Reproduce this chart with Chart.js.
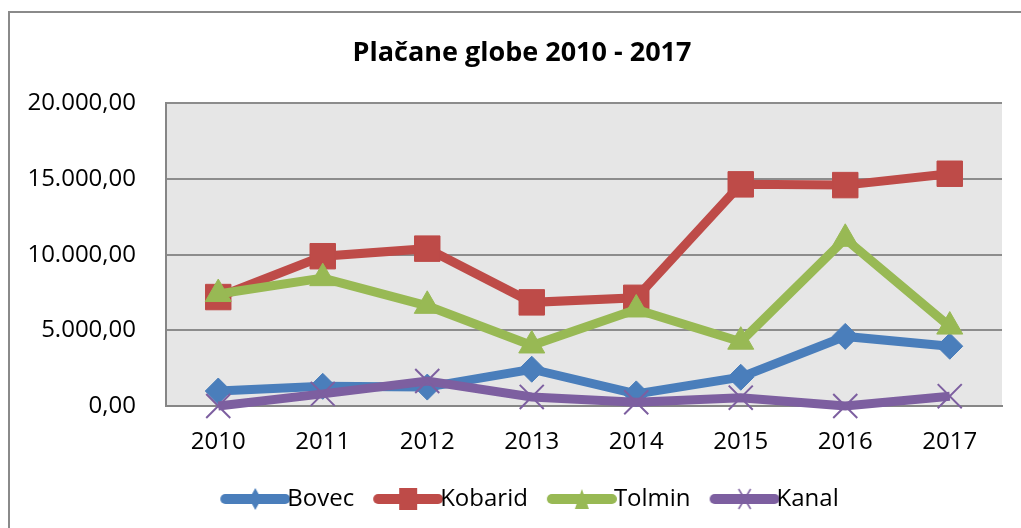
<!DOCTYPE html>
<html>
<head>
<meta charset="utf-8">
<script src="https://cdn.jsdelivr.net/npm/chart.js@4"></script>
<style>
  html, body { margin: 0; padding: 0; background: #fff; overflow: hidden; }
  #wrap { position: relative; width: 1021px; height: 528px; }
  #frame { position: absolute; left: 8px; top: 11px; width: 1100px; height: 600px; border: 2px solid #8a8a8a; box-sizing: border-box; }
  canvas { position: absolute; left: 0; top: 0; }
</style>
</head>
<body>
<div id="wrap">
  <div id="frame"></div>
  <canvas id="chart" width="1021" height="528"></canvas>
</div>
<script>
// Data
const years = ['2010', '2011', '2012', '2013', '2014', '2015', '2016', '2017'];
const bovec = [990, 1300, 1250, 2430, 800, 1900, 4600, 3950];
const kobarid = [7200, 9900, 10400, 6850, 7150, 14650, 14600, 15350];
const tolmin = [7400, 8450, 6620, 4000, 6380, 4250, 11050, 5250];
const kanal = [0, 800, 1650, 600, 250, 550, 0, 650];
const yTicks = [0, 5000, 10000, 15000, 20000];

const FONT = "'Open Sans', 'DejaVu Sans', sans-serif";

// Format like 20.000,00
function formatNum(v) {
    const s = Math.round(v).toString().replace(/\B(?=(\d{3})+(?!\d))/g, '.');
    return s + ',00';
}

// Legend icon: thick line with marker
function legendIcon(color, style) {
    const c = document.createElement('canvas');
    c.width = 100;
    c.height = 30;
    const ctx = c.getContext('2d');
    const x0 = 35, x1 = 95, cy = 15;
    ctx.strokeStyle = color;
    ctx.lineWidth = 10;
    ctx.lineCap = 'round';
    ctx.beginPath();
    ctx.moveTo(x0, cy);
    ctx.lineTo(x1, cy);
    ctx.stroke();
    const mx = (x0 + x1) / 2;
    ctx.fillStyle = color;
    ctx.beginPath();
    if (style === 'diamond') {
        ctx.moveTo(mx, cy - 11); ctx.lineTo(mx + 6, cy); ctx.lineTo(mx, cy + 11); ctx.lineTo(mx - 6, cy);
        ctx.fill();
    } else if (style === 'square') {
        ctx.rect(mx - 9, cy - 11, 18, 22);
        ctx.fill();
    } else if (style === 'triangle') {
        ctx.moveTo(mx, cy - 10); ctx.lineTo(mx + 7, cy + 10); ctx.lineTo(mx - 7, cy + 10);
        ctx.fill();
    } else {
        ctx.lineWidth = 1.5;
        ctx.lineCap = 'butt';
        ctx.moveTo(mx - 6, cy - 10); ctx.lineTo(mx + 6, cy + 10);
        ctx.moveTo(mx + 6, cy - 10); ctx.lineTo(mx - 6, cy + 10);
        ctx.stroke();
    }
    return c;
}

const series = [
    { label: 'Bovec', data: bovec, color: '#4a7ebb', point: 'rectRot', radius: 13, icon: 'diamond', order: 3 },
    { label: 'Kobarid', data: kobarid, color: '#be4b48', point: 'rect', radius: 18, icon: 'square', order: 2 },
    { label: 'Tolmin', data: tolmin, color: '#98b954', point: 'triangle', radius: 15, icon: 'triangle', order: 1 },
    { label: 'Kanal', data: kanal, color: '#7d5fa0', point: 'crossRot', radius: 17, icon: 'cross', order: 0 }
];

const icons = series.map(s => legendIcon(s.color, s.icon));

// Plot area background
const plotBg = {
    id: 'plotBg',
    beforeDraw(chart) {
        const a = chart.chartArea;
        const ctx = chart.ctx;
        ctx.save();
        ctx.fillStyle = '#e6e6e6';
        ctx.fillRect(a.left, a.top, a.right - a.left, a.bottom - a.top);
        ctx.restore();
    }
};

new Chart(document.getElementById('chart').getContext('2d'), {
    type: 'line',
    data: {
        labels: years,
        datasets: series.map(s => ({
            label: s.label,
            data: s.data,
            borderColor: s.color,
            backgroundColor: s.color,
            borderWidth: 9,
            tension: 0,
            pointStyle: s.point,
            pointRadius: s.radius,
            pointHoverRadius: s.radius,
            pointBackgroundColor: s.color,
            pointBorderColor: s.color,
            pointBorderWidth: s.point === 'crossRot' ? 2 : 1,
            order: s.order,
            clip: false
        }))
    },
    options: {
        responsive: false,
        animation: false,
        layout: {
            padding: { left: 37, right: 14, top: 0, bottom: 7 }
        },
        plugins: {
            title: {
                display: true,
                text: 'Plačane globe 2010 - 2017',
                color: '#000',
                font: { family: FONT, size: 27, weight: 'bold' },
                padding: { top: 37, bottom: 34 }
            },
            legend: {
                position: 'bottom',
                labels: {
                    color: '#000',
                    font: { family: FONT, size: 24 },
                    usePointStyle: true,
                    pointStyleWidth: 70,
                    padding: 4,
                    generateLabels: function(chart) {
                        return chart.data.datasets.map((ds, i) => ({
                            text: ds.label,
                            pointStyle: icons[i],
                            fillStyle: ds.borderColor,
                            strokeStyle: ds.borderColor,
                            lineWidth: 0,
                            hidden: false,
                            datasetIndex: i
                        }));
                    }
                }
            },
            tooltip: { enabled: false }
        },
        scales: {
            x: {
                offset: true,
                grid: { display: false, drawTicks: false },
                border: { display: true, color: '#868686', width: 2 },
                ticks: {
                    color: '#000',
                    font: { family: FONT, size: 24 },
                    padding: 22,
                    maxRotation: 0
                },
                afterFit: function(scale) { scale.height = 77; }
            },
            y: {
                min: 0,
                max: 20000,
                afterBuildTicks: function(scale) {
                    scale.ticks = yTicks.map(v => ({ value: v }));
                },
                grid: { color: '#8c8c8c', lineWidth: 2, drawTicks: false },
                border: { display: true, color: '#868686', width: 2 },
                ticks: {
                    color: '#000',
                    font: { family: FONT, size: 24 },
                    padding: 30,
                    callback: function(v) { return formatNum(v); }
                },
                afterFit: function(scale) {
                    scale.width = 129;
                    // let the long tick labels run past the scale box
                    scale._computeLabelArea = function() { return undefined; };
                }
            }
        }
    },
    plugins: [plotBg]
});
</script>
</body>
</html>
